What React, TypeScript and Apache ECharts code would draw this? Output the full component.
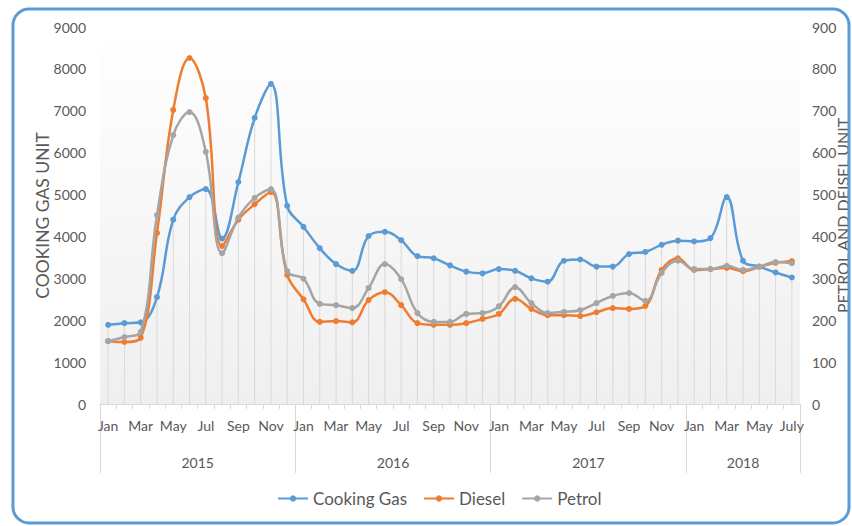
import React, { useEffect, useRef } from "react";
import * as echarts from "echarts";

const monthLabels = [
  "Jan","Feb","Mar","Apr","May","Jun","Jul","Aug","Sep","Oct","Nov","Dec",
  "Jan","Feb","Mar","Apr","May","Jun","Jul","Aug","Sep","Oct","Nov","Dec",
  "Jan","Feb","Mar","Apr","May","Jun","Jul","Aug","Sep","Oct","Nov","Dec",
  "Jan","Feb","Mar","Apr","May","Jun","July",
];
const yearOfMonth = [
  ...Array(12).fill("2015"), ...Array(12).fill("2016"), ...Array(12).fill("2017"), ...Array(7).fill("2018"),
];
const yearLabels = ["2015", "2016", "2017", "2018"];
const yearCenters = [6, 18, 30, 39.5];
const yearBounds = [0, 12, 24, 36, 43];

const cookingGas = [
  1890, 1930, 1950, 2550, 4400, 4940, 5130, 3950, 5300, 6830, 7640, 4730,
  4230, 3720, 3340, 3180, 4010, 4110, 3910, 3530, 3480, 3310, 3160, 3120,
  3220, 3180, 3000, 2920, 3420, 3450, 3280, 3280, 3580, 3630, 3800, 3900,
  3880, 3960, 4940, 3420, 3280, 3140, 3020,
];
const diesel = [
  150, 148, 158, 408, 702, 826, 730, 377, 440, 477, 506, 308,
  250, 196, 198, 195, 248, 267, 236, 193, 189, 189, 193, 203,
  215, 251, 227, 212, 212, 210, 219, 229, 227, 234, 320, 348,
  320, 322, 325, 317, 327, 337, 341,
];
const petrol = [
  150, 160, 172, 451, 642, 697, 602, 360, 445, 492, 513, 317,
  299, 239, 236, 229, 277, 334, 298, 217, 196, 196, 215, 217,
  233, 279, 241, 217, 220, 224, 241, 258, 265, 246, 313, 342,
  322, 322, 330, 320, 328, 339, 336,
];

const categories = monthLabels.map((m, i) => `${yearOfMonth[i]}-${m}-${i}`);

const FONT = "Lato, 'Open Sans', sans-serif";
const TXT = "#595959";

export default function App() {
  const ref = useRef<HTMLDivElement>(null);
  useEffect(() => {
    if (!ref.current) return;
    const chart = echarts.init(ref.current, undefined, { renderer: "svg" });
    chart.setOption({
      animation: false,
      backgroundColor: "#ffffff",
      textStyle: { fontFamily: FONT },
      graphic: [
        {
          type: "rect",
          shape: { x: 13, y: 9, width: 836, height: 514, r: 16 },
          style: { fill: "none", stroke: "#5b9bd5", lineWidth: 3 },
          z: 100,
          silent: true,
        },
      ],
      legend: {
        data: ["Cooking Gas", "Diesel", "Petrol"],
        bottom: 14,
        left: 272,
        itemWidth: 30,
        itemHeight: 8,
        itemGap: 16,
        textStyle: { fontSize: 17, color: TXT, fontFamily: FONT },
      },
      grid: {
        left: 100,
        right: 52,
        top: 27,
        bottom: 122,
        outerBoundsMode: "none",
        containLabel: false,
        show: true,
        borderWidth: 0,
        backgroundColor: new echarts.graphic.LinearGradient(0, 0, 0, 1, [
          { offset: 0, color: "#ffffff" },
          { offset: 1, color: "#efefef" },
        ]),
      },
      xAxis: [
        {
          type: "category",
          data: categories,
          boundaryGap: true,
          axisLine: { show: true, lineStyle: { color: "#d9d9d9" } },
          axisTick: { show: true, interval: 0, length: 5, lineStyle: { color: "#d9d9d9" } },
          axisLabel: {
            interval: 1,
            margin: 14,
            fontSize: 14,
            color: TXT,
            fontFamily: FONT,
            formatter: (v: string) => v.split("-")[1],
          },
          splitLine: { show: false },
        },
        {
          type: "value",
          position: "bottom",
          min: 0,
          max: 43,
          axisLine: { show: false },
          axisTick: {
            show: true,
            customValues: yearBounds,
            length: 69,
            lineStyle: { color: "#d9d9d9" },
          },
          axisLabel: {
            show: true,
            customValues: yearCenters,
            margin: 51,
            fontSize: 14,
            color: TXT,
            fontFamily: FONT,
            formatter: (v: number) => yearLabels[yearCenters.indexOf(v)] ?? "",
          },
          splitLine: { show: false },
        },
      ],
      yAxis: [
        {
          type: "value",
          min: 0,
          max: 9000,
          interval: 1000,
          name: "COOKING GAS UNIT",
          nameLocation: "middle",
          nameGap: 49,
          nameMoveOverlap: false,
          nameTextStyle: { fontSize: 17.5, color: TXT, fontFamily: FONT },
          axisLine: { show: false },
          axisTick: { show: false },
          splitLine: { show: false },
          axisLabel: {
            fontSize: 14,
            color: TXT,
            margin: 14,
            fontFamily: FONT,
            formatter: (v: number) => String(v),
          },
        },
        {
          type: "value",
          min: 0,
          max: 900,
          interval: 100,
          position: "right",
          name: "PETROL AND DEISEL UNIT",
          nameLocation: "middle",
          nameGap: 34,
          nameRotate: 90,
          nameMoveOverlap: false,
          nameTextStyle: { fontSize: 16, color: TXT, fontFamily: FONT },
          axisLine: { show: false },
          axisTick: { show: false },
          splitLine: { show: false },
          axisLabel: {
            fontSize: 14,
            color: TXT,
            margin: 12,
            fontFamily: FONT,
            formatter: (v: number) => String(v),
          },
        },
      ],
      series: [
        {
          name: "drop",
          type: "bar",
          data: cookingGas,
          barWidth: 1,
          itemStyle: { color: "#d9d9d9" },
          silent: true,
          z: 1,
        },
        {
          name: "Cooking Gas",
          type: "line",
          data: cookingGas,
          yAxisIndex: 0,
          smooth: 0.4,
          symbol: "circle",
          symbolSize: 6,
          lineStyle: { width: 2.5, color: "#5b9bd5" },
          itemStyle: { color: "#5b9bd5" },
          z: 3,
        },
        {
          name: "Diesel",
          type: "line",
          data: diesel,
          yAxisIndex: 1,
          smooth: 0.4,
          symbol: "circle",
          symbolSize: 6,
          lineStyle: { width: 2.5, color: "#ed7d31" },
          itemStyle: { color: "#ed7d31" },
          z: 4,
        },
        {
          name: "Petrol",
          type: "line",
          data: petrol,
          yAxisIndex: 1,
          smooth: 0.4,
          symbol: "circle",
          symbolSize: 6,
          lineStyle: { width: 2.5, color: "#a5a5a5" },
          itemStyle: { color: "#a5a5a5" },
          z: 5,
        },
      ],
    });
    return () => chart.dispose();
  }, []);
  return (
    <div
      ref={ref}
      style={{ position: "fixed", left: 0, top: 0, width: 852, height: 526 }}
    />
  );
}
